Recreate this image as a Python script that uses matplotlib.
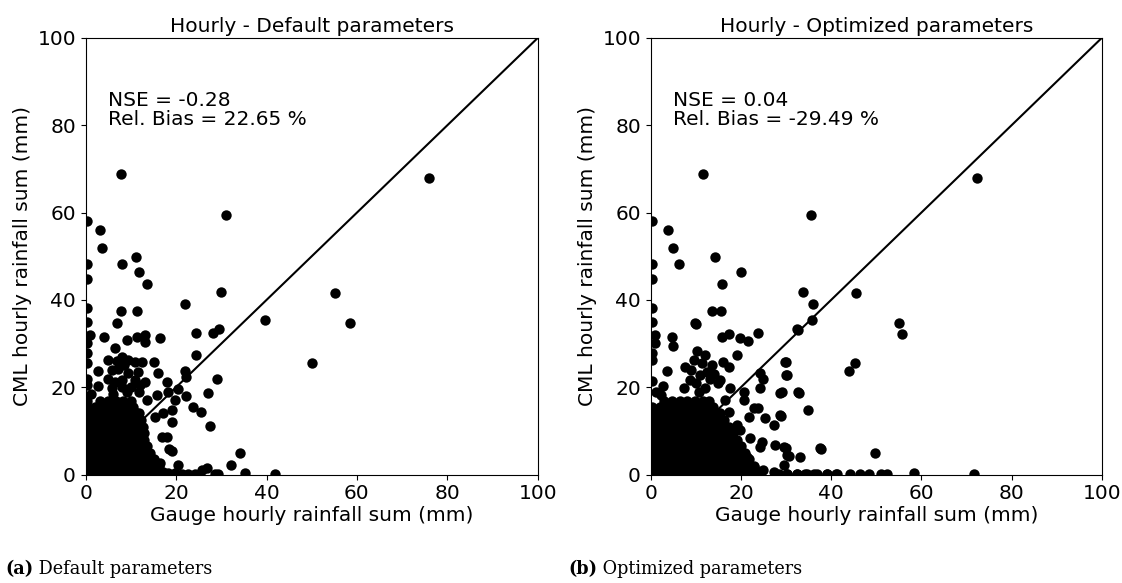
import matplotlib
matplotlib.use("Agg")
import matplotlib.pyplot as plt

# ---------------- Panel (a): default parameters ----------------
gauge_a = [7.7, 75.9, 31.0, 0.3, 3.1, 3.6, 11.1, 0.3, 8.0, 11.9, 0.3, 13.5, 29.9, 55.1,
           22.0, 0.3, 7.7, 11.4, 39.6, 58.4, 6.9, 0.3, 28.1, 29.5, 24.4, 50.1, 24.4,
           1.0, 4.1, 9.1, 11.3, 13.1, 13.1, 16.4, 0.3, 0.3, 0.3,
           5.0, 6.5, 8.0, 9.4, 10.9, 12.4, 15.0, 2.7, 5.8, 7.2, 8.5,
           5.0, 6.5, 8.0, 9.4, 10.9, 13.1, 5.8, 8.0, 9.1, 11.7,
           16.1, 17.9, 13.5, 15.7, 15.3, 17.2, 19.0, 18.3, 20.5, 19.8, 22.3, 19.0,
           22.0, 22.2, 23.8, 25.5, 27.6, 27.1, 29.0,
           16.8, 17.9, 18.4, 19.0, 20.4, 34.1, 32.2, 25.7, 26.8, 35.2, 41.9,
           18.3, 19.8, 21.2, 22.7, 24.2, 28.6, 29.3, 14.2, 15.0, 16.4,
           0.3, 2.7, 0.3, 1.2, 7.0, 11.5, 10.0, 6.0, 12.0]
cml_a = [68.9, 68.0, 59.4, 58.1, 56.0, 52.0, 49.9, 48.3, 48.3, 46.5, 44.7, 43.7, 41.8, 41.5,
         39.1, 38.2, 37.5, 37.5, 35.4, 34.7, 34.8, 35.0, 32.4, 33.3, 32.4, 25.6, 27.5,
         32.0, 31.6, 30.8, 31.6, 32.0, 30.4, 31.2, 30.1, 27.8, 25.5,
         26.2, 28.9, 27.0, 26.2, 25.9, 25.9, 25.9, 23.8, 23.9, 24.3, 25.0,
         22.0, 21.3, 21.7, 23.2, 21.7, 21.3, 19.8, 20.1, 18.9, 18.9,
         23.2, 21.3, 17.1, 18.2, 13.3, 14.0, 14.8, 18.9, 19.7, 17.1, 17.9, 12.1,
         23.8, 22.4, 15.4, 14.4, 11.1, 18.8, 22.0,
         8.7, 8.7, 5.8, 5.3, 2.2, 5.0, 2.2, 1.0, 1.4, 0.4, 0.1,
         0.3, 0.3, 0.2, 0.2, 0.2, 0.2, 0.1, 4.1, 3.3, 2.6,
         20.5, 20.3, 22.0, 18.5, 26.0, 23.5, 20.0, 18.5, 20.5]

# dense cluster near the origin, read row by row (CML value of the row, gauge values)
blob_a_rows_y = [0.5, 2.0, 3.5, 5.0, 6.5, 8.0, 9.5, 11.0, 12.5, 14.0, 15.5, 16.8]
blob_a_rows_x = [
    [0.3, 2.0, 3.7, 5.4, 7.1, 8.8, 10.5, 12.2, 13.9, 15.6, 17.0],
    [1.1, 2.8, 4.5, 6.2, 7.9, 9.6, 11.3, 13.0, 14.7, 16.2],
    [0.3, 2.0, 3.7, 5.4, 7.1, 8.8, 10.5, 12.2, 13.9, 15.0],
    [1.1, 2.8, 4.5, 6.2, 7.9, 9.6, 11.3, 13.0, 14.3],
    [0.3, 2.0, 3.7, 5.4, 7.1, 8.8, 10.5, 12.2, 13.6],
    [1.1, 2.8, 4.5, 6.2, 7.9, 9.6, 11.3, 13.0],
    [0.3, 2.0, 3.7, 5.4, 7.1, 8.8, 10.5, 12.2, 13.0],
    [1.1, 2.8, 4.5, 6.2, 7.9, 9.6, 11.3, 12.6],
    [0.3, 2.0, 3.7, 5.4, 7.1, 8.8, 10.5, 12.2],
    [1.1, 2.8, 4.5, 6.2, 7.9, 9.6, 11.3, 11.9],
    [0.3, 2.0, 3.7, 5.4, 7.1, 8.8, 10.5],
    [0.3, 3.2, 4.9, 6.6, 8.3, 10.0],
]

# ---------------- Panel (b): optimized parameters ----------------
gauge_b = [11.7, 72.4, 35.6, 0.3, 3.9, 4.9, 14.3, 0.3, 6.3, 20.1, 0.3, 15.8, 33.8, 45.5,
           35.9, 0.3, 13.6, 15.6, 9.8, 35.7, 0.3, 32.7, 55.0, 55.7, 45.2, 43.9,
           29.9, 30.2, 29.1, 32.7, 34.8, 28.9, 29.5, 30.2, 29.6, 33.2, 37.7, 49.7, 58.4, 71.7,
           30.2, 32.4, 34.3, 36.1, 39.1, 41.0, 44.3, 46.5, 48.4, 51.0, 52.3,
           10.1, 1.0, 1.0, 4.8, 5.0, 15.8, 17.3, 19.7, 21.5, 23.9, 32.4,
           0.3, 0.3, 10.2, 19.1, 3.6, 7.6, 9.5, 11.3, 12.4, 16.1, 17.3, 15.4, 15.0, 17.6,
           8.7, 11.0, 13.2, 12.1, 10.6, 7.3, 2.8, 2.2, 24.3, 25.0, 29.7, 30.0, 24.3,
           20.6, 20.6, 28.7, 32.8, 16.5, 17.3, 22.8, 21.7, 23.9, 25.4, 27.3, 28.7,
           19.9, 19.1, 22.1, 24.3, 24.7, 27.6, 29.9, 30.6, 37.6, 21.3, 22.8, 25.0, 27.3,
           28.4, 30.2, 32.4, 34.7, 36.9, 39.1, 41.3,
           9.0, 13.5, 12.0, 14.0, 10.0, 0.3, 1.2]
cml_b = [68.9, 68.0, 59.4, 58.1, 56.0, 52.0, 49.9, 48.3, 48.3, 46.5, 44.7, 43.7, 41.8, 41.5,
         39.1, 38.2, 37.5, 37.5, 34.8, 35.5, 35.0, 33.2, 34.7, 32.3, 25.6, 23.7,
         25.8, 22.7, 18.9, 18.9, 14.8, 13.5, 6.4, 4.4, 2.2, 4.1, 5.9, 5.0, 0.4, 0.1,
         0.1, 0.1, 0.1, 0.1, 0.1, 0.1, 0.2, 0.1, 0.1, 0.1, 0.1,
         34.6, 31.9, 30.1, 31.6, 29.4, 31.6, 32.2, 31.2, 30.5, 32.4, 33.3,
         27.8, 26.2, 28.2, 27.5, 23.7, 24.7, 26.2, 25.5, 23.6, 25.9, 24.7, 21.7, 20.9, 19.8,
         21.7, 22.8, 22.0, 19.8, 19.0, 19.8, 20.3, 18.2, 23.2, 22.0, 25.9, 22.8, 19.8,
         19.0, 17.1, 18.8, 18.8, 17.1, 14.4, 15.2, 13.3, 15.2, 12.9, 11.4, 13.6,
         10.2, 11.4, 8.3, 6.4, 7.5, 6.8, 6.0, 4.3, 6.0, 4.1, 1.8, 1.0, 0.7,
         0.2, 0.2, 0.2, 0.2, 0.2, 0.2, 0.2,
         24.0, 25.0, 27.5, 23.0, 21.0, 21.5, 19.0]

blob_b_rows_y = [0.5, 2.0, 3.5, 5.0, 6.5, 8.0, 9.5, 11.0, 12.5, 14.0, 15.5, 16.8]
blob_b_rows_x = [
    [0.3, 2.0, 3.7, 5.4, 7.1, 8.8, 10.5, 12.2, 13.9, 15.6, 17.3, 19.0, 20.7, 22.4, 23.8],
    [1.1, 2.8, 4.5, 6.2, 7.9, 9.6, 11.3, 13.0, 14.7, 16.4, 18.1, 19.8, 21.5, 22.8],
    [0.3, 2.0, 3.7, 5.4, 7.1, 8.8, 10.5, 12.2, 13.9, 15.6, 17.3, 19.0, 20.7, 21.8],
    [1.1, 2.8, 4.5, 6.2, 7.9, 9.6, 11.3, 13.0, 14.7, 16.4, 18.1, 19.8, 21.0],
    [0.3, 2.0, 3.7, 5.4, 7.1, 8.8, 10.5, 12.2, 13.9, 15.6, 17.3, 19.0, 20.0],
    [1.1, 2.8, 4.5, 6.2, 7.9, 9.6, 11.3, 13.0, 14.7, 16.4, 18.1, 19.2],
    [0.3, 2.0, 3.7, 5.4, 7.1, 8.8, 10.5, 12.2, 13.9, 15.6, 17.3, 18.3],
    [1.1, 2.8, 4.5, 6.2, 7.9, 9.6, 11.3, 13.0, 14.7, 16.4, 17.3],
    [0.3, 2.0, 3.7, 5.4, 7.1, 8.8, 10.5, 12.2, 13.9, 15.6, 16.3],
    [1.1, 2.8, 4.5, 6.2, 7.9, 9.6, 11.3, 13.0, 14.7, 15.3],
    [0.3, 2.0, 3.7, 5.4, 7.1, 8.8, 10.5, 12.2, 13.9],
    [3.0, 4.7, 6.4, 8.1, 9.8, 11.5, 13.0],
]

titles = ["Hourly - Default parameters", "Hourly - Optimized parameters"]
stats_text = ["NSE = -0.28\nRel. Bias = 22.65 %", "NSE = 0.04\nRel. Bias = -29.49 %"]
caption_tags = ["(a)", "(b)"]
caption_texts = [" Default parameters", " Optimized parameters"]
x_label = "Gauge hourly rainfall sum (mm)"
y_label = "CML hourly rainfall sum (mm)"
ticks = [0, 20, 40, 60, 80, 100]


def expand(rows_y, rows_x):
    xs, ys = [], []
    for yv, xrow in zip(rows_y, rows_x):
        for xv in xrow:
            xs.append(xv)
            ys.append(yv)
    return xs, ys


fig = plt.figure(figsize=(11.22, 5.83), dpi=100)
W, H = 1122, 583
ax_a = fig.add_axes([85.7 / W, 1 - 474.6 / H, 452 / W, 436.6 / H])
ax_b = fig.add_axes([650.7 / W, 1 - 474.6 / H, 451 / W, 436.6 / H])

panels = [
    (ax_a, gauge_a, cml_a, blob_a_rows_y, blob_a_rows_x),
    (ax_b, gauge_b, cml_b, blob_b_rows_y, blob_b_rows_x),
]
fs = 14.5
for i, (ax, gx, cy, by, bx) in enumerate(panels):
    bxs, bys = expand(by, bx)
    ax.scatter(bxs + gx, bys + cy, s=56, c="black", linewidths=0, zorder=2)
    ax.plot([0, 100], [0, 100], color="black", lw=1.5, zorder=3)
    ax.set_xlim(0, 100)
    ax.set_ylim(0, 100)
    ax.set_xticks(ticks)
    ax.set_yticks(ticks)
    ax.tick_params(labelsize=fs)
    ax.set_xlabel(x_label, fontsize=fs, labelpad=2)
    ax.set_ylabel(y_label, fontsize=fs)
    ax.set_title(titles[i], fontsize=fs, pad=4)
    ax.text(5, 80, stats_text[i], fontsize=fs, linespacing=1.0)

# captions below each panel
fig.canvas.draw()
renderer = fig.canvas.get_renderer()
cap_x = [5 / W, 568 / W]
cap_y = 1 - 569 / H
for i in range(2):
    t = fig.text(cap_x[i], cap_y, caption_tags[i], fontsize=12.7, family="DejaVu Serif",
                 weight="bold", va="center", ha="left")
    bb = t.get_window_extent(renderer=renderer)
    fig.text(bb.x1 / W, cap_y, caption_texts[i], fontsize=12.7, family="DejaVu Serif",
             va="center", ha="left")

fig.savefig("out.png", dpi=100)
